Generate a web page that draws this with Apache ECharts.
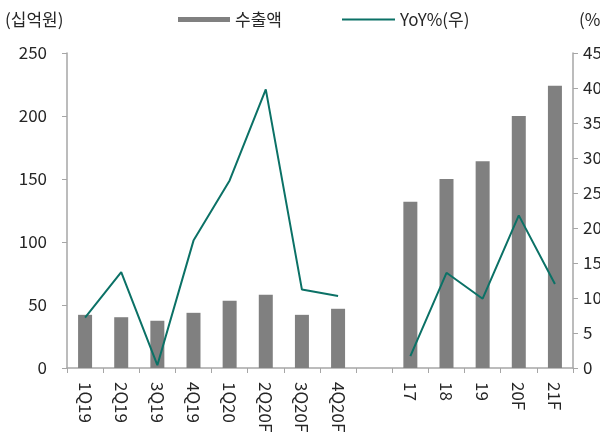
<!DOCTYPE html>
<html>
<head>
<meta charset="utf-8">
<script src="https://cdn.jsdelivr.net/npm/echarts@6/dist/echarts.min.js"></script>
<style>
  html, body { margin: 0; padding: 0; background: #fff; }
  #chart { width: 600px; height: 437px; }
</style>
</head>
<body>
<div id="chart"></div>
<script>
// 분기 + 연간 (빈 칸으로 구분)
var categories = ['1Q19', '2Q19', '3Q19', '4Q19', '1Q20', '2Q20F', '3Q20F', '4Q20F', '', '17', '18', '19', '20F', '21F'];
var exportValues = [42.2, 40.3, 37.5, 43.8, 53.3, 58.1, 42.2, 47, null, 132, 150, 164, 200, 224];
var yoyValues = [7.2, 13.7, 0.4, 18.2, 26.8, 39.8, 11.2, 10.3, null, 1.7, 13.6, 9.9, 21.8, 12.0];
var leftTicks = [0, 250, 50];   // min, max, interval
var rightTicks = [0, 45, 5];

var font = "'Noto Sans CJK KR', 'Noto Sans', sans-serif";
var axisGrey = '#a6a6a6';
var txt = '#262626';

var myChart = echarts.init(document.getElementById('chart'));

var option = {
    animation: false,
    textStyle: { fontFamily: font },
    legend: [
        {
            top: 6,
            left: 173,
            itemWidth: 52,
            itemHeight: 5,
            icon: 'rect',
            textStyle: { fontSize: 17, color: txt, fontFamily: font },
            data: ['수출액']
        },
        {
            top: 6,
            left: 337,
            itemWidth: 53,
            itemHeight: 2,
            icon: 'rect',
            textStyle: { fontSize: 17, color: txt, fontFamily: font },
            data: ['YoY%(우)']
        }
    ],
    grid: { left: 67, right: 27, top: 53, bottom: 69, outerBoundsMode: 'none', containLabel: false },
    xAxis: {
        type: 'category',
        data: categories,
        boundaryGap: true,
        axisLine: { lineStyle: { color: axisGrey, width: 1.5 } },
        axisTick: { show: true, length: 5, lineStyle: { color: axisGrey } },
        axisLabel: { rotate: -90, margin: 14, fontSize: 17, color: txt, fontFamily: font, interval: 0 }
    },
    yAxis: [
        {
            type: 'value',
            min: leftTicks[0], max: leftTicks[1], interval: leftTicks[2],
            name: '(십억원)',
            nameGap: 25,
            nameTextStyle: { fontSize: 17, color: txt, align: 'left', padding: [0, 0, 0, -62] },
            axisLine: { show: true, lineStyle: { color: axisGrey, width: 1.5 } },
            axisTick: { show: true, length: 5, lineStyle: { color: axisGrey } },
            axisLabel: { fontSize: 17, color: txt, margin: 20 },
            splitLine: { show: false }
        },
        {
            type: 'value',
            position: 'right',
            min: rightTicks[0], max: rightTicks[1], interval: rightTicks[2],
            name: '(%)',
            nameGap: 25,
            nameTextStyle: { fontSize: 17, color: txt, align: 'left', padding: [0, 0, 0, 6] },
            axisLine: { show: true, lineStyle: { color: axisGrey, width: 1.5 } },
            axisTick: { show: true, length: 5, lineStyle: { color: axisGrey } },
            axisLabel: { fontSize: 17, color: txt, margin: 10 },
            splitLine: { show: false }
        }
    ],
    series: [
        {
            name: '수출액',
            type: 'bar',
            yAxisIndex: 0,
            barWidth: 14,
            itemStyle: { color: '#808080' },
            data: exportValues
        },
        {
            name: 'YoY%(우)',
            type: 'line',
            yAxisIndex: 1,
            symbol: 'none',
            connectNulls: false,
            lineStyle: { color: '#0b7166', width: 2 },
            itemStyle: { color: '#0b7166' },
            data: yoyValues
        }
    ]
};

myChart.setOption(option);
</script>
</body>
</html>
